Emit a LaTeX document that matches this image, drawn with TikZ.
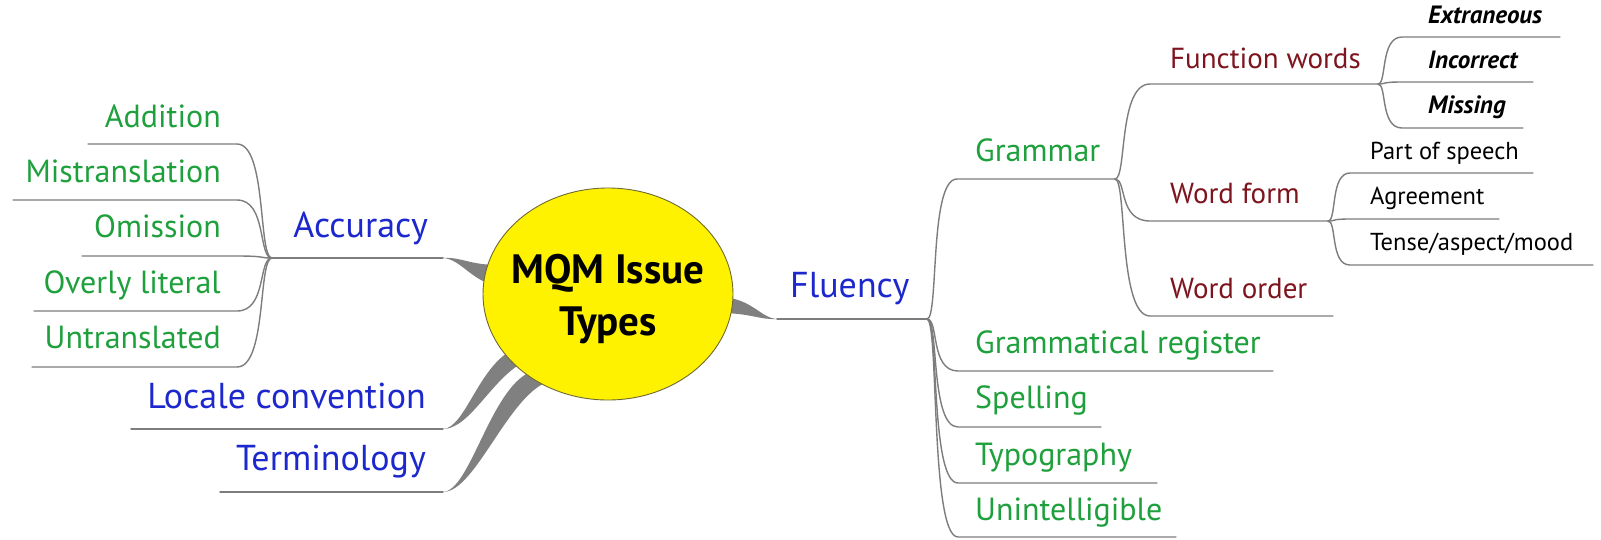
\documentclass[tikz,border=0pt]{standalone}
\usepackage{fontspec}
\setmainfont{PT Sans}
\usetikzlibrary{shapes.geometric}
\definecolor{cblue}{RGB}{28,40,205}
\definecolor{cgreen}{RGB}{30,160,60}
\definecolor{cred}{RGB}{125,20,30}
\definecolor{lgray}{RGB}{125,125,125}
\definecolor{rgray}{RGB}{128,128,128}
\definecolor{ebord}{RGB}{110,105,50}
\begin{document}
\begin{tikzpicture}[x=1pt,y=-1pt,
 conn/.style={draw=lgray,line width=1.4pt,line cap=round},
 ribbon/.style={fill=rgray},
 lblue/.style={font=\fontsize{36}{40}\selectfont,text=cblue,inner sep=0pt},
 lgreen/.style={font=\fontsize{32}{36}\selectfont,text=cgreen,inner sep=0pt},
 lred/.style={font=\fontsize{29}{32}\selectfont,text=cred,inner sep=0pt},
 lblack/.style={font=\fontsize{24.5}{28}\selectfont,text=black,inner sep=0pt},
 lbi/.style={font=\fontsize{25}{28}\selectfont\bfseries\itshape,text=black,inner sep=0pt},
 ttl/.style={font=\fontsize{41}{46}\selectfont\bfseries,text=black,inner sep=0pt,anchor=base},
 L/.style={anchor=base east},
 R/.style={anchor=base west}]
\useasboundingbox (0,0) rectangle (1601,539);
\fill[white] (0,0) rectangle (1601,539);

% ---------- coordinates of underlines ----------
\coordinate (acc-in) at (443,258); \coordinate (acc-out) at (272,258);
\coordinate (add-in) at (237,144); \coordinate (add-out) at (88,144);
\coordinate (mis-in) at (237,200); \coordinate (mis-out) at (13,200);
\coordinate (omi-in) at (237,256); \coordinate (omi-out) at (82,256);
\coordinate (ove-in) at (237,311); \coordinate (ove-out) at (34,311);
\coordinate (unt-in) at (237,367); \coordinate (unt-out) at (32,367);
\coordinate (loc-in) at (443,429); \coordinate (loc-out) at (131,429);
\coordinate (ter-in) at (443,492); \coordinate (ter-out) at (220,492);

\coordinate (flu-in) at (777,319); \coordinate (flu-out) at (927,319);
\coordinate (gra-in) at (957,179); \coordinate (gra-out) at (1115,179);
\coordinate (reg-in) at (958,371); \coordinate (reg-out) at (1273,371);
\coordinate (spe-in) at (958,427); \coordinate (spe-out) at (1101,427);
\coordinate (typ-in) at (958,483); \coordinate (typ-out) at (1157,483);
\coordinate (uni-in) at (958,537); \coordinate (uni-out) at (1176,537);
\coordinate (fun-in) at (1150,84); \coordinate (fun-out) at (1378,84);
\coordinate (wfo-in) at (1150,221); \coordinate (wfo-out) at (1328,221);
\coordinate (wor-in) at (1150,316); \coordinate (wor-out) at (1333,316);
\coordinate (ext-in) at (1402,37); \coordinate (ext-out) at (1560,37);
\coordinate (inc-in) at (1402,82); \coordinate (inc-out) at (1533,82);
\coordinate (msg-in) at (1402,128); \coordinate (msg-out) at (1523,128);
\coordinate (pos-in) at (1350,173); \coordinate (pos-out) at (1533,173);
\coordinate (agr-in) at (1350,219); \coordinate (agr-out) at (1499,219);
\coordinate (ten-in) at (1350,265); \coordinate (ten-out) at (1593,265);

% ---------- ribbons from the central topic ----------
\fill[ribbon] (acc-in) .. controls (463,257) and (468,265) .. (500,265)
  -- (500,285) .. controls (474,285) and (462,259) .. (acc-in) -- cycle;
\fill[ribbon] (loc-in) .. controls (465,428) and (478,368) .. (512,350)
  -- (524,362) .. controls (492,378) and (470,429) .. (loc-in) -- cycle;
\fill[ribbon] (ter-in) .. controls (470,491) and (490,390) .. (530,372)
  -- (547,382) .. controls (507,398) and (475,492) .. (ter-in) -- cycle;
\fill[ribbon] (flu-in) .. controls (760,318) and (752,298) .. (720,297)
  -- (720,313) .. controls (750,313) and (760,320) .. (flu-in) -- cycle;

% ---------- central topic ----------
\node[ellipse,draw=ebord,line width=0.9pt,fill=yellow,minimum width=250pt,minimum height=212pt,inner sep=0pt] (root) at (608,294) {};
\node[ttl] (title) at (608,283) {MQM Issue};
\node[ttl] (title2) at (608,335) {Types};

% ---------- labels ----------
\node[lblue,L] (acc) at (428,237) {Accuracy};
\node[lgreen,L] (add) at (221,127) {Addition};
\node[lgreen,L] (mis) at (221,182) {Mistranslation};
\node[lgreen,L] (omi) at (221,237) {Omission};
\node[lgreen,L] (ove) at (221,293) {Overly literal};
\node[lgreen,L] (unt) at (221,348) {Untranslated};
\node[lblue,L] (loc) at (426,408) {Locale convention};
\node[lblue,L] (ter) at (426,470) {Terminology};

\node[lblue,R] (flu) at (790,297) {Fluency};
\node[lgreen,R] (gra) at (975,161) {Grammar};
\node[lgreen,R] (reg) at (975,353) {Grammatical register};
\node[lgreen,R] (spe) at (975,408) {Spelling};
\node[lgreen,R] (typ) at (975,465) {Typography};
\node[lgreen,R] (uni) at (975,520) {Unintelligible};
\node[lred,R] (fun) at (1170,68) {Function words};
\node[lred,R] (wfo) at (1170,203) {Word form};
\node[lred,R] (wor) at (1170,298) {Word order};
\node[lbi,R] (ext) at (1428,23) {Extraneous};
\node[lbi,R] (inc) at (1428,68) {Incorrect};
\node[lbi,R] (msg) at (1428,113) {Missing};
\node[lblack,R] (pos) at (1370,159) {Part of speech};
\node[lblack,R] (agr) at (1370,204) {Agreement};
\node[lblack,R] (ten) at (1370,250) {Tense/aspect/mood};

% ---------- underlines and branches ----------
\draw[conn] (acc-in) -- (acc-out);
\draw[conn] (loc-in) -- (loc-out);
\draw[conn] (ter-in) -- (ter-out);
\draw[conn] (flu-in) -- (flu-out);
\foreach \c in {add,mis,omi,ove,unt}
  \draw[conn] (acc-out) .. controls +(-14,0) and +(30,0) .. (\c-in) -- (\c-out);
\foreach \c in {gra,reg,spe,typ,uni}
  \draw[conn] (flu-out) .. controls +(12,0) and +(-28,0) .. (\c-in) -- (\c-out);
\foreach \c in {fun,wfo,wor}
  \draw[conn] (gra-out) .. controls +(12,0) and +(-32,0) .. (\c-in) -- (\c-out);
\foreach \c in {ext,inc,msg}
  \draw[conn] (fun-out) .. controls +(9,0) and +(-22,0) .. (\c-in) -- (\c-out);
\foreach \c in {pos,agr,ten}
  \draw[conn] (wfo-out) .. controls +(9,0) and +(-20,0) .. (\c-in) -- (\c-out);
\end{tikzpicture}
\end{document}
